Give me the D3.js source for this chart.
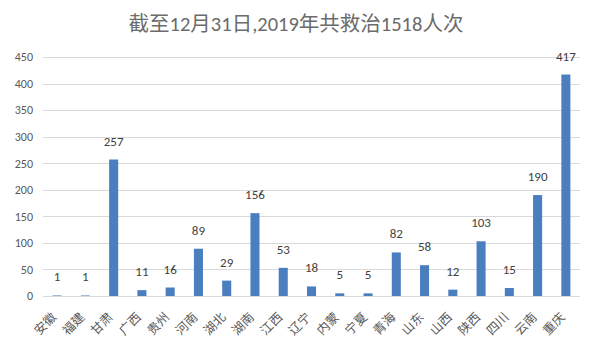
<!DOCTYPE html>
<html>
<head>
<meta charset="utf-8">
<script src="https://cdn.jsdelivr.net/npm/d3@7"></script>
<style>
body { margin: 0; background: #fff; }
text { font-family: Calibri, "Liberation Sans", "Noto Sans CJK SC", sans-serif; }
</style>
</head>
<body>
<script>
var provinces = ["安徽","福建","甘肃","广西","贵州","河南","湖北","湖南","江西","辽宁","内蒙","宁夏","青海","山东","山西","陕西","四川","云南","重庆"];
var counts = [1,1,257,11,16,89,29,156,53,18,5,5,82,58,12,103,15,190,417];
var yTicks = [0,50,100,150,200,250,300,350,400,450];
var title = "截至12月31日,2019年共救治1518人次";

var WIDTH = 596, HEIGHT = 353;
var LEFT = 43, RIGHT = 580, TOP = 57, BOTTOM = 296;

var svg = d3.select("body").append("svg")
  .attr("width", WIDTH)
  .attr("height", HEIGHT);

var xScale = d3.scaleBand()
  .domain(provinces)
  .range([LEFT, RIGHT])
  .paddingInner(0.68)
  .paddingOuter(0.34);

var yScale = d3.scaleLinear()
  .domain([0, 450])
  .range([BOTTOM, TOP]);

svg.append("text")
  .attr("x", WIDTH / 2 - 2)
  .attr("y", 31)
  .attr("text-anchor", "middle")
  .attr("fill", "#6b6b6b")
  .style("font-size", "20.5px")
  .text(title);

// gridlines
svg.append("g").selectAll("line")
  .data(yTicks)
  .enter()
  .append("line")
  .attr("x1", LEFT)
  .attr("x2", RIGHT)
  .attr("y1", function (d) { return Math.round(yScale(d)) + 0.5; })
  .attr("y2", function (d) { return Math.round(yScale(d)) + 0.5; })
  .attr("stroke", "#d9d9d9")
  .attr("stroke-width", 1);

var yAxis = d3.axisLeft(yScale).tickValues(yTicks).tickSize(0).tickPadding(10);
var gy = svg.append("g")
  .attr("transform", "translate(" + LEFT + ",0)")
  .call(yAxis);
gy.select(".domain").remove();
gy.selectAll("text").attr("fill", "#595959").style("font-size", "12px");

var xAxis = d3.axisBottom(xScale).tickSize(0).tickPadding(0);
var gx = svg.append("g")
  .attr("transform", "translate(0," + BOTTOM + ")")
  .call(xAxis);
gx.select(".domain").remove();
gx.selectAll("text")
  .attr("fill", "#595959")
  .style("font-size", "12.5px")
  .attr("text-anchor", "end")
  .attr("dy", null)
  .attr("y", 0)
  .attr("transform", "translate(0,22) rotate(-45)");

svg.append("g").selectAll("rect")
  .data(counts)
  .enter()
  .append("rect")
  .attr("x", function (d, i) { return xScale(provinces[i]); })
  .attr("width", xScale.bandwidth())
  .attr("y", function (d) { return yScale(d); })
  .attr("height", function (d) { return BOTTOM - yScale(d); })
  .attr("fill", "#4a7ebf");

svg.append("g").selectAll("text")
  .data(counts)
  .enter()
  .append("text")
  .attr("x", function (d, i) { return xScale(provinces[i]) + xScale.bandwidth() / 2; })
  .attr("y", function (d) { return yScale(d) - 14; })
  .attr("text-anchor", "middle")
  .attr("fill", "#404040")
  .style("font-size", "13px")
  .text(function (d) { return d; });
</script>
</body>
</html>
